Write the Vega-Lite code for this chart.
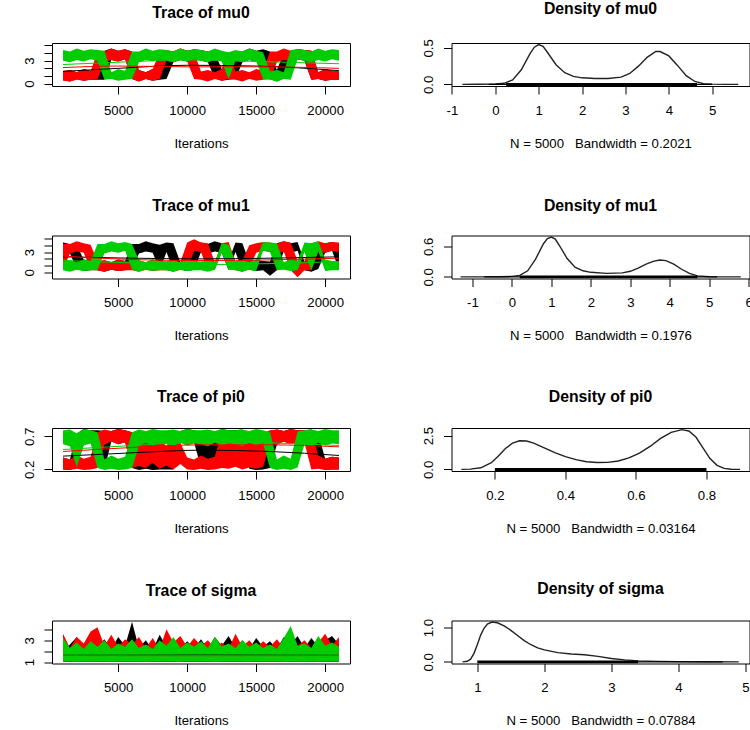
{
"$schema":"https://vega.github.io/schema/vega-lite/v6.json",
"padding":{"left":21,"top":0,"right":2,"bottom":2},
"background":"white",
"columns":2,
"spacing":{"row":149.5,"column":101.5},
"bounds":"flush",
"datasets":{
"mu0":[
{"c":1,"x":1000,"lo":0.5,"hi":1.6},{"c":1,"x":1500,"lo":0.3,"hi":1.8},{"c":1,"x":2000,"lo":0.6,"hi":1.5},{"c":1,"x":2500,"lo":0.4,"hi":1.9},{"c":1,"x":3000,"lo":0.5,"hi":1.7},{"c":1,"x":3500,"lo":0.5,"hi":1.6},{"c":1,"x":4000,"lo":0.5,"hi":4.3},{"c":1,"x":4500,"lo":3.1,"hi":4.6},{"c":1,"x":5000,"lo":2.9,"hi":4.3},{"c":1,"x":5500,"lo":3.2,"hi":4.5},{"c":1,"x":6000,"lo":0.6,"hi":4.2},{"c":1,"x":6500,"lo":0.3,"hi":1.8},{"c":1,"x":7000,"lo":0.6,"hi":1.5},{"c":1,"x":7500,"lo":0.4,"hi":1.9},{"c":1,"x":8000,"lo":0.5,"hi":1.7},{"c":1,"x":8500,"lo":0.6,"hi":4.2},{"c":1,"x":9000,"lo":2.8,"hi":4.2},{"c":1,"x":9500,"lo":3.1,"hi":4.6},{"c":1,"x":10000,"lo":2.9,"hi":4.3},{"c":1,"x":10500,"lo":3.2,"hi":4.5},{"c":1,"x":11000,"lo":3.0,"hi":4.4},{"c":1,"x":11500,"lo":2.8,"hi":4.2},{"c":1,"x":12000,"lo":0.7,"hi":4.0},{"c":1,"x":12500,"lo":0.4,"hi":1.9},{"c":1,"x":13000,"lo":0.5,"hi":1.7},{"c":1,"x":13500,"lo":0.6,"hi":4.2},{"c":1,"x":14000,"lo":2.8,"hi":4.2},{"c":1,"x":14500,"lo":3.1,"hi":4.6},{"c":1,"x":15000,"lo":2.9,"hi":4.3},{"c":1,"x":15500,"lo":3.2,"hi":4.5},{"c":1,"x":16000,"lo":0.6,"hi":4.2},{"c":1,"x":16500,"lo":0.3,"hi":1.8},{"c":1,"x":17000,"lo":0.7,"hi":4.0},{"c":1,"x":17500,"lo":2.9,"hi":4.3},{"c":1,"x":18000,"lo":3.2,"hi":4.5},{"c":1,"x":18500,"lo":3.0,"hi":4.4},{"c":1,"x":19000,"lo":0.5,"hi":4.3},{"c":1,"x":19500,"lo":0.6,"hi":1.5},{"c":1,"x":20000,"lo":0.4,"hi":1.9},{"c":1,"x":20500,"lo":0.5,"hi":1.7},{"c":1,"x":21000,"lo":0.5,"hi":1.6},
{"c":2,"x":1000,"lo":0.4,"hi":1.7},{"c":2,"x":1500,"lo":0.3,"hi":1.8},{"c":2,"x":2000,"lo":0.5,"hi":1.5},{"c":2,"x":2500,"lo":0.4,"hi":1.9},{"c":2,"x":3000,"lo":0.5,"hi":1.6},{"c":2,"x":3500,"lo":0.6,"hi":4.2},{"c":2,"x":4000,"lo":2.8,"hi":4.2},{"c":2,"x":4500,"lo":3.1,"hi":4.6},{"c":2,"x":5000,"lo":2.9,"hi":4.3},{"c":2,"x":5500,"lo":3.2,"hi":4.5},{"c":2,"x":6000,"lo":0.6,"hi":4.2},{"c":2,"x":6500,"lo":0.3,"hi":1.8},{"c":2,"x":7000,"lo":0.6,"hi":1.5},{"c":2,"x":7500,"lo":0.4,"hi":1.9},{"c":2,"x":8000,"lo":0.6,"hi":4.1},{"c":2,"x":8500,"lo":3.0,"hi":4.4},{"c":2,"x":9000,"lo":2.8,"hi":4.2},{"c":2,"x":9500,"lo":3.1,"hi":4.6},{"c":2,"x":10000,"lo":2.9,"hi":4.3},{"c":2,"x":10500,"lo":0.6,"hi":4.1},{"c":2,"x":11000,"lo":0.5,"hi":1.6},{"c":2,"x":11500,"lo":0.3,"hi":1.8},{"c":2,"x":12000,"lo":0.6,"hi":1.5},{"c":2,"x":12500,"lo":0.4,"hi":1.9},{"c":2,"x":13000,"lo":0.6,"hi":4.1},{"c":2,"x":13500,"lo":0.5,"hi":1.6},{"c":2,"x":14000,"lo":0.3,"hi":1.8},{"c":2,"x":14500,"lo":0.6,"hi":1.5},{"c":2,"x":15000,"lo":0.4,"hi":1.9},{"c":2,"x":15500,"lo":0.5,"hi":1.7},{"c":2,"x":16000,"lo":0.6,"hi":4.2},{"c":2,"x":16500,"lo":2.8,"hi":4.2},{"c":2,"x":17000,"lo":3.1,"hi":4.6},{"c":2,"x":17500,"lo":2.9,"hi":4.3},{"c":2,"x":18000,"lo":3.2,"hi":4.5},{"c":2,"x":18500,"lo":3.0,"hi":4.4},{"c":2,"x":19000,"lo":0.5,"hi":4.3},{"c":2,"x":19500,"lo":0.6,"hi":1.5},{"c":2,"x":20000,"lo":0.4,"hi":1.9},{"c":2,"x":20500,"lo":0.5,"hi":1.7},{"c":2,"x":21000,"lo":0.5,"hi":1.6},
{"c":3,"x":1000,"lo":3.0,"hi":4.4},{"c":3,"x":1500,"lo":2.8,"hi":4.2},{"c":3,"x":2000,"lo":3.1,"hi":4.6},{"c":3,"x":2500,"lo":2.9,"hi":4.3},{"c":3,"x":3000,"lo":3.2,"hi":4.5},{"c":3,"x":3500,"lo":3.0,"hi":4.4},{"c":3,"x":4000,"lo":0.5,"hi":4.3},{"c":3,"x":4500,"lo":0.6,"hi":1.5},{"c":3,"x":5000,"lo":0.4,"hi":1.9},{"c":3,"x":5500,"lo":0.5,"hi":1.7},{"c":3,"x":6000,"lo":0.6,"hi":4.2},{"c":3,"x":6500,"lo":2.8,"hi":4.2},{"c":3,"x":7000,"lo":3.1,"hi":4.6},{"c":3,"x":7500,"lo":2.9,"hi":4.3},{"c":3,"x":8000,"lo":3.2,"hi":4.5},{"c":3,"x":8500,"lo":3.0,"hi":4.4},{"c":3,"x":9000,"lo":2.8,"hi":4.2},{"c":3,"x":9500,"lo":3.1,"hi":4.6},{"c":3,"x":10000,"lo":2.9,"hi":4.3},{"c":3,"x":10500,"lo":3.2,"hi":4.5},{"c":3,"x":11000,"lo":3.0,"hi":4.4},{"c":3,"x":11500,"lo":2.8,"hi":4.2},{"c":3,"x":12000,"lo":3.1,"hi":4.6},{"c":3,"x":12500,"lo":2.9,"hi":4.3},{"c":3,"x":13000,"lo":0.6,"hi":4.1},{"c":3,"x":13500,"lo":3.0,"hi":4.4},{"c":3,"x":14000,"lo":2.8,"hi":4.2},{"c":3,"x":14500,"lo":3.1,"hi":4.6},{"c":3,"x":15000,"lo":2.9,"hi":4.3},{"c":3,"x":15500,"lo":0.6,"hi":4.1},{"c":3,"x":16000,"lo":0.5,"hi":1.6},{"c":3,"x":16500,"lo":0.3,"hi":1.8},{"c":3,"x":17000,"lo":0.6,"hi":1.5},{"c":3,"x":17500,"lo":0.5,"hi":4.4},{"c":3,"x":18000,"lo":3.2,"hi":4.5},{"c":3,"x":18500,"lo":3.0,"hi":4.4},{"c":3,"x":19000,"lo":2.8,"hi":4.2},{"c":3,"x":19500,"lo":3.1,"hi":4.6},{"c":3,"x":20000,"lo":2.9,"hi":4.3},{"c":3,"x":20500,"lo":3.2,"hi":4.5},{"c":3,"x":21000,"lo":3.0,"hi":4.4}
],
"mu1":[
{"c":1,"x":1000,"lo":3.0,"hi":4.4},{"c":1,"x":1500,"lo":2.8,"hi":4.2},{"c":1,"x":2000,"lo":0.5,"hi":4.0},{"c":1,"x":2500,"lo":0.2,"hi":1.9},{"c":1,"x":3000,"lo":0.3,"hi":1.7},{"c":1,"x":3500,"lo":0.3,"hi":1.6},{"c":1,"x":4000,"lo":0.1,"hi":1.8},{"c":1,"x":4500,"lo":0.4,"hi":1.5},{"c":1,"x":5000,"lo":0.2,"hi":1.9},{"c":1,"x":5500,"lo":0.3,"hi":1.7},{"c":1,"x":6000,"lo":0.4,"hi":4.2},{"c":1,"x":6500,"lo":2.8,"hi":4.2},{"c":1,"x":7000,"lo":3.1,"hi":4.6},{"c":1,"x":7500,"lo":2.9,"hi":4.3},{"c":1,"x":8000,"lo":0.4,"hi":4.1},{"c":1,"x":8500,"lo":3.0,"hi":4.4},{"c":1,"x":9000,"lo":0.3,"hi":4.3},{"c":1,"x":9500,"lo":0.4,"hi":1.5},{"c":1,"x":10000,"lo":0.2,"hi":1.9},{"c":1,"x":10500,"lo":0.4,"hi":4.1},{"c":1,"x":11000,"lo":3.0,"hi":4.4},{"c":1,"x":11500,"lo":2.8,"hi":4.2},{"c":1,"x":12000,"lo":3.1,"hi":4.6},{"c":1,"x":12500,"lo":2.9,"hi":4.3},{"c":1,"x":13000,"lo":0.3,"hi":1.7},{"c":1,"x":13500,"lo":3.0,"hi":4.4},{"c":1,"x":14000,"lo":0.3,"hi":4.3},{"c":1,"x":14500,"lo":0.4,"hi":1.5},{"c":1,"x":15000,"lo":0.2,"hi":1.9},{"c":1,"x":15500,"lo":0.3,"hi":1.7},{"c":1,"x":16000,"lo":-0.5,"hi":1.6},{"c":1,"x":16500,"lo":0.3,"hi":4.3},{"c":1,"x":17000,"lo":3.1,"hi":4.6},{"c":1,"x":17500,"lo":2.9,"hi":4.3},{"c":1,"x":18000,"lo":3.2,"hi":4.5},{"c":1,"x":18500,"lo":0.3,"hi":1.6},{"c":1,"x":19000,"lo":0.1,"hi":1.8},{"c":1,"x":19500,"lo":0.5,"hi":4.0},{"c":1,"x":20000,"lo":2.9,"hi":4.3},{"c":1,"x":20500,"lo":3.2,"hi":4.5},{"c":1,"x":21000,"lo":0.4,"hi":4.2},
{"c":2,"x":1000,"lo":0.4,"hi":4.2},{"c":2,"x":1500,"lo":2.8,"hi":4.2},{"c":2,"x":2000,"lo":3.1,"hi":4.6},{"c":2,"x":2500,"lo":2.9,"hi":4.3},{"c":2,"x":3000,"lo":0.4,"hi":4.1},{"c":2,"x":3500,"lo":0.3,"hi":1.6},{"c":2,"x":4000,"lo":0.1,"hi":1.8},{"c":2,"x":4500,"lo":0.4,"hi":1.5},{"c":2,"x":5000,"lo":0.2,"hi":1.9},{"c":2,"x":5500,"lo":0.3,"hi":1.7},{"c":2,"x":6000,"lo":0.3,"hi":1.6},{"c":2,"x":6500,"lo":0.1,"hi":1.8},{"c":2,"x":7000,"lo":0.4,"hi":1.5},{"c":2,"x":7500,"lo":0.2,"hi":1.9},{"c":2,"x":8000,"lo":0.3,"hi":1.7},{"c":2,"x":8500,"lo":0.3,"hi":1.6},{"c":2,"x":9000,"lo":0.1,"hi":1.8},{"c":2,"x":9500,"lo":0.4,"hi":1.5},{"c":2,"x":10000,"lo":0.3,"hi":4.4},{"c":2,"x":10500,"lo":3.2,"hi":4.9},{"c":2,"x":11000,"lo":3.0,"hi":4.4},{"c":2,"x":11500,"lo":0.3,"hi":4.3},{"c":2,"x":12000,"lo":0.4,"hi":1.5},{"c":2,"x":12500,"lo":2.9,"hi":4.3},{"c":2,"x":13000,"lo":3.2,"hi":4.5},{"c":2,"x":13500,"lo":0.3,"hi":1.6},{"c":2,"x":14000,"lo":0.1,"hi":1.8},{"c":2,"x":14500,"lo":0.5,"hi":4.0},{"c":2,"x":15000,"lo":2.9,"hi":4.3},{"c":2,"x":15500,"lo":3.2,"hi":4.5},{"c":2,"x":16000,"lo":3.0,"hi":4.4},{"c":2,"x":16500,"lo":2.8,"hi":4.2},{"c":2,"x":17000,"lo":3.1,"hi":4.6},{"c":2,"x":17500,"lo":0.3,"hi":4.4},{"c":2,"x":18000,"lo":-0.7,"hi":1.7},{"c":2,"x":18500,"lo":0.3,"hi":1.6},{"c":2,"x":19000,"lo":0.3,"hi":4.3},{"c":2,"x":19500,"lo":3.1,"hi":4.6},{"c":2,"x":20000,"lo":2.9,"hi":4.3},{"c":2,"x":20500,"lo":3.2,"hi":4.5},{"c":2,"x":21000,"lo":3.0,"hi":4.4},
{"c":3,"x":1000,"lo":0.3,"hi":1.6},{"c":3,"x":1500,"lo":0.1,"hi":1.8},{"c":3,"x":2000,"lo":0.4,"hi":1.5},{"c":3,"x":2500,"lo":0.2,"hi":1.9},{"c":3,"x":3000,"lo":0.3,"hi":1.7},{"c":3,"x":3500,"lo":0.4,"hi":4.2},{"c":3,"x":4000,"lo":2.8,"hi":4.2},{"c":3,"x":4500,"lo":3.1,"hi":4.6},{"c":3,"x":5000,"lo":2.9,"hi":4.3},{"c":3,"x":5500,"lo":3.2,"hi":4.5},{"c":3,"x":6000,"lo":0.4,"hi":4.2},{"c":3,"x":6500,"lo":0.1,"hi":1.8},{"c":3,"x":7000,"lo":0.4,"hi":1.5},{"c":3,"x":7500,"lo":0.2,"hi":1.9},{"c":3,"x":8000,"lo":0.3,"hi":1.7},{"c":3,"x":8500,"lo":0.3,"hi":1.6},{"c":3,"x":9000,"lo":0.1,"hi":1.8},{"c":3,"x":9500,"lo":0.4,"hi":1.5},{"c":3,"x":10000,"lo":0.2,"hi":1.9},{"c":3,"x":10500,"lo":0.3,"hi":1.7},{"c":3,"x":11000,"lo":0.3,"hi":1.6},{"c":3,"x":11500,"lo":0.1,"hi":1.8},{"c":3,"x":12000,"lo":0.4,"hi":1.5},{"c":3,"x":12500,"lo":2.9,"hi":4.3},{"c":3,"x":13000,"lo":0.4,"hi":4.1},{"c":3,"x":13500,"lo":0.3,"hi":1.6},{"c":3,"x":14000,"lo":0.1,"hi":1.8},{"c":3,"x":14500,"lo":0.4,"hi":1.5},{"c":3,"x":15000,"lo":0.2,"hi":1.9},{"c":3,"x":15500,"lo":3.2,"hi":4.5},{"c":3,"x":16000,"lo":3.0,"hi":4.4},{"c":3,"x":16500,"lo":0.3,"hi":4.3},{"c":3,"x":17000,"lo":0.4,"hi":1.5},{"c":3,"x":17500,"lo":0.2,"hi":1.9},{"c":3,"x":18000,"lo":0.3,"hi":1.7},{"c":3,"x":18500,"lo":3.0,"hi":4.4},{"c":3,"x":19000,"lo":0.3,"hi":4.3},{"c":3,"x":19500,"lo":3.1,"hi":4.6},{"c":3,"x":20000,"lo":0.2,"hi":1.9},{"c":3,"x":20500,"lo":0.3,"hi":1.7},{"c":3,"x":21000,"lo":0.3,"hi":1.6}
],
"pi0":[
{"c":1,"x":1000,"lo":0.20,"hi":0.38},{"c":1,"x":1500,"lo":0.19,"hi":0.35},{"c":1,"x":2000,"lo":0.24,"hi":0.74},{"c":1,"x":2500,"lo":0.58,"hi":0.81},{"c":1,"x":3000,"lo":0.61,"hi":0.79},{"c":1,"x":3500,"lo":0.60,"hi":0.79},{"c":1,"x":4000,"lo":0.20,"hi":0.78},{"c":1,"x":4500,"lo":0.62,"hi":0.78},{"c":1,"x":5000,"lo":0.58,"hi":0.81},{"c":1,"x":5500,"lo":0.61,"hi":0.79},{"c":1,"x":6000,"lo":0.22,"hi":0.76},{"c":1,"x":6500,"lo":0.19,"hi":0.35},{"c":1,"x":7000,"lo":0.21,"hi":0.41},{"c":1,"x":7500,"lo":0.19,"hi":0.36},{"c":1,"x":8000,"lo":0.20,"hi":0.39},{"c":1,"x":8500,"lo":0.20,"hi":0.38},{"c":1,"x":9000,"lo":0.20,"hi":0.78},{"c":1,"x":9500,"lo":0.62,"hi":0.78},{"c":1,"x":10000,"lo":0.58,"hi":0.81},{"c":1,"x":10500,"lo":0.61,"hi":0.79},{"c":1,"x":11000,"lo":0.22,"hi":0.76},{"c":1,"x":11500,"lo":0.20,"hi":0.78},{"c":1,"x":12000,"lo":0.24,"hi":0.74},{"c":1,"x":12500,"lo":0.58,"hi":0.81},{"c":1,"x":13000,"lo":0.61,"hi":0.79},{"c":1,"x":13500,"lo":0.60,"hi":0.79},{"c":1,"x":14000,"lo":0.57,"hi":0.80},{"c":1,"x":14500,"lo":0.21,"hi":0.41},{"c":1,"x":15000,"lo":0.19,"hi":0.36},{"c":1,"x":15500,"lo":0.20,"hi":0.39},{"c":1,"x":16000,"lo":0.22,"hi":0.76},{"c":1,"x":16500,"lo":0.57,"hi":0.80},{"c":1,"x":17000,"lo":0.62,"hi":0.78},{"c":1,"x":17500,"lo":0.58,"hi":0.81},{"c":1,"x":18000,"lo":0.61,"hi":0.79},{"c":1,"x":18500,"lo":0.60,"hi":0.79},{"c":1,"x":19000,"lo":0.57,"hi":0.80},{"c":1,"x":19500,"lo":0.24,"hi":0.74},{"c":1,"x":20000,"lo":0.19,"hi":0.36},{"c":1,"x":20500,"lo":0.20,"hi":0.39},{"c":1,"x":21000,"lo":0.20,"hi":0.38},
{"c":2,"x":1000,"lo":0.20,"hi":0.38},{"c":2,"x":1500,"lo":0.19,"hi":0.35},{"c":2,"x":2000,"lo":0.21,"hi":0.41},{"c":2,"x":2500,"lo":0.19,"hi":0.36},{"c":2,"x":3000,"lo":0.20,"hi":0.39},{"c":2,"x":3500,"lo":0.22,"hi":0.76},{"c":2,"x":4000,"lo":0.57,"hi":0.80},{"c":2,"x":4500,"lo":0.62,"hi":0.78},{"c":2,"x":5000,"lo":0.58,"hi":0.81},{"c":2,"x":5500,"lo":0.61,"hi":0.79},{"c":2,"x":6000,"lo":0.22,"hi":0.76},{"c":2,"x":6500,"lo":0.25,"hi":0.62},{"c":2,"x":7000,"lo":0.22,"hi":0.70},{"c":2,"x":7500,"lo":0.30,"hi":0.58},{"c":2,"x":8000,"lo":0.21,"hi":0.66},{"c":2,"x":8500,"lo":0.26,"hi":0.55},{"c":2,"x":9000,"lo":0.20,"hi":0.72},{"c":2,"x":9500,"lo":0.28,"hi":0.60},{"c":2,"x":10000,"lo":0.20,"hi":0.38},{"c":2,"x":10500,"lo":0.19,"hi":0.35},{"c":2,"x":11000,"lo":0.21,"hi":0.41},{"c":2,"x":11500,"lo":0.19,"hi":0.36},{"c":2,"x":12000,"lo":0.20,"hi":0.39},{"c":2,"x":12500,"lo":0.22,"hi":0.76},{"c":2,"x":13000,"lo":0.21,"hi":0.68},{"c":2,"x":13500,"lo":0.24,"hi":0.74},{"c":2,"x":14000,"lo":0.20,"hi":0.62},{"c":2,"x":14500,"lo":0.23,"hi":0.77},{"c":2,"x":15000,"lo":0.21,"hi":0.70},{"c":2,"x":15500,"lo":0.24,"hi":0.74},{"c":2,"x":16000,"lo":0.60,"hi":0.79},{"c":2,"x":16500,"lo":0.57,"hi":0.80},{"c":2,"x":17000,"lo":0.62,"hi":0.78},{"c":2,"x":17500,"lo":0.58,"hi":0.81},{"c":2,"x":18000,"lo":0.61,"hi":0.79},{"c":2,"x":18500,"lo":0.60,"hi":0.79},{"c":2,"x":19000,"lo":0.20,"hi":0.78},{"c":2,"x":19500,"lo":0.21,"hi":0.41},{"c":2,"x":20000,"lo":0.19,"hi":0.36},{"c":2,"x":20500,"lo":0.20,"hi":0.39},{"c":2,"x":21000,"lo":0.20,"hi":0.38},
{"c":3,"x":1000,"lo":0.58,"hi":0.79},{"c":3,"x":1500,"lo":0.55,"hi":0.80},{"c":3,"x":2000,"lo":0.24,"hi":0.74},{"c":3,"x":2500,"lo":0.56,"hi":0.81},{"c":3,"x":3000,"lo":0.59,"hi":0.79},{"c":3,"x":3500,"lo":0.22,"hi":0.76},{"c":3,"x":4000,"lo":0.19,"hi":0.35},{"c":3,"x":4500,"lo":0.21,"hi":0.41},{"c":3,"x":5000,"lo":0.19,"hi":0.36},{"c":3,"x":5500,"lo":0.20,"hi":0.39},{"c":3,"x":6000,"lo":0.22,"hi":0.76},{"c":3,"x":6500,"lo":0.55,"hi":0.80},{"c":3,"x":7000,"lo":0.60,"hi":0.78},{"c":3,"x":7500,"lo":0.56,"hi":0.81},{"c":3,"x":8000,"lo":0.59,"hi":0.79},{"c":3,"x":8500,"lo":0.58,"hi":0.79},{"c":3,"x":9000,"lo":0.55,"hi":0.80},{"c":3,"x":9500,"lo":0.60,"hi":0.78},{"c":3,"x":10000,"lo":0.56,"hi":0.81},{"c":3,"x":10500,"lo":0.59,"hi":0.79},{"c":3,"x":11000,"lo":0.58,"hi":0.79},{"c":3,"x":11500,"lo":0.55,"hi":0.80},{"c":3,"x":12000,"lo":0.60,"hi":0.78},{"c":3,"x":12500,"lo":0.56,"hi":0.81},{"c":3,"x":13000,"lo":0.59,"hi":0.79},{"c":3,"x":13500,"lo":0.58,"hi":0.79},{"c":3,"x":14000,"lo":0.55,"hi":0.80},{"c":3,"x":14500,"lo":0.60,"hi":0.78},{"c":3,"x":15000,"lo":0.56,"hi":0.81},{"c":3,"x":15500,"lo":0.59,"hi":0.79},{"c":3,"x":16000,"lo":0.22,"hi":0.76},{"c":3,"x":16500,"lo":0.19,"hi":0.35},{"c":3,"x":17000,"lo":0.21,"hi":0.41},{"c":3,"x":17500,"lo":0.19,"hi":0.36},{"c":3,"x":18000,"lo":0.23,"hi":0.77},{"c":3,"x":18500,"lo":0.58,"hi":0.79},{"c":3,"x":19000,"lo":0.55,"hi":0.80},{"c":3,"x":19500,"lo":0.60,"hi":0.78},{"c":3,"x":20000,"lo":0.56,"hi":0.81},{"c":3,"x":20500,"lo":0.59,"hi":0.79},{"c":3,"x":21000,"lo":0.58,"hi":0.79}
],
"sigma":[
{"c":1,"x":1000,"lo":1.05,"hi":1.9},{"c":1,"x":1500,"lo":1.02,"hi":2.6},{"c":1,"x":2000,"lo":1.08,"hi":3.3},{"c":1,"x":2500,"lo":1.04,"hi":2.1},{"c":1,"x":3000,"lo":1.06,"hi":3.4},{"c":1,"x":3500,"lo":1.05,"hi":2.4},{"c":1,"x":4000,"lo":1.02,"hi":3.1},{"c":1,"x":4500,"lo":1.08,"hi":2.2},{"c":1,"x":5000,"lo":1.04,"hi":3.3},{"c":1,"x":5500,"lo":1.06,"hi":2.5},{"c":1,"x":6000,"lo":1.05,"hi":4.7},{"c":1,"x":6500,"lo":1.02,"hi":2.3},{"c":1,"x":7000,"lo":1.08,"hi":3.0},{"c":1,"x":7500,"lo":1.04,"hi":2.1},{"c":1,"x":8000,"lo":1.06,"hi":3.5},{"c":1,"x":8500,"lo":1.05,"hi":2.4},{"c":1,"x":9000,"lo":1.02,"hi":3.2},{"c":1,"x":9500,"lo":1.08,"hi":2.2},{"c":1,"x":10000,"lo":1.04,"hi":2.9},{"c":1,"x":10500,"lo":1.06,"hi":2.3},{"c":1,"x":11000,"lo":1.05,"hi":3.1},{"c":1,"x":11500,"lo":1.02,"hi":2.2},{"c":1,"x":12000,"lo":1.08,"hi":3.3},{"c":1,"x":12500,"lo":1.04,"hi":2.5},{"c":1,"x":13000,"lo":1.06,"hi":3.4},{"c":1,"x":13500,"lo":1.05,"hi":2.3},{"c":1,"x":14000,"lo":1.02,"hi":3.0},{"c":1,"x":14500,"lo":1.08,"hi":2.2},{"c":1,"x":15000,"lo":1.04,"hi":3.2},{"c":1,"x":15500,"lo":1.06,"hi":2.4},{"c":1,"x":16000,"lo":1.05,"hi":2.9},{"c":1,"x":16500,"lo":1.02,"hi":2.2},{"c":1,"x":17000,"lo":1.08,"hi":3.3},{"c":1,"x":17500,"lo":1.04,"hi":2.6},{"c":1,"x":18000,"lo":1.06,"hi":3.4},{"c":1,"x":18500,"lo":1.05,"hi":2.3},{"c":1,"x":19000,"lo":1.02,"hi":3.2},{"c":1,"x":19500,"lo":1.08,"hi":2.4},{"c":1,"x":20000,"lo":1.04,"hi":3.0},{"c":1,"x":20500,"lo":1.06,"hi":3.4},{"c":1,"x":21000,"lo":1.05,"hi":2.6},
{"c":2,"x":1000,"lo":1.03,"hi":3.6},{"c":2,"x":1500,"lo":1.06,"hi":2.3},{"c":2,"x":2000,"lo":1.02,"hi":3.3},{"c":2,"x":2500,"lo":1.05,"hi":2.7},{"c":2,"x":3000,"lo":1.04,"hi":3.8},{"c":2,"x":3500,"lo":1.03,"hi":4.2},{"c":2,"x":4000,"lo":1.06,"hi":2.5},{"c":2,"x":4500,"lo":1.02,"hi":3.5},{"c":2,"x":5000,"lo":1.05,"hi":2.4},{"c":2,"x":5500,"lo":1.04,"hi":3.1},{"c":2,"x":6000,"lo":1.03,"hi":2.6},{"c":2,"x":6500,"lo":1.06,"hi":3.3},{"c":2,"x":7000,"lo":1.02,"hi":2.3},{"c":2,"x":7500,"lo":1.05,"hi":3.2},{"c":2,"x":8000,"lo":1.04,"hi":2.2},{"c":2,"x":8500,"lo":1.03,"hi":4.0},{"c":2,"x":9000,"lo":1.06,"hi":2.8},{"c":2,"x":9500,"lo":1.02,"hi":3.4},{"c":2,"x":10000,"lo":1.05,"hi":2.4},{"c":2,"x":10500,"lo":1.04,"hi":3.2},{"c":2,"x":11000,"lo":1.03,"hi":2.5},{"c":2,"x":11500,"lo":1.06,"hi":3.0},{"c":2,"x":12000,"lo":1.02,"hi":2.3},{"c":2,"x":12500,"lo":1.05,"hi":2.8},{"c":2,"x":13000,"lo":1.04,"hi":2.2},{"c":2,"x":13500,"lo":1.03,"hi":3.6},{"c":2,"x":14000,"lo":1.06,"hi":2.4},{"c":2,"x":14500,"lo":1.02,"hi":3.0},{"c":2,"x":15000,"lo":1.05,"hi":2.3},{"c":2,"x":15500,"lo":1.04,"hi":2.9},{"c":2,"x":16000,"lo":1.03,"hi":2.4},{"c":2,"x":16500,"lo":1.06,"hi":3.1},{"c":2,"x":17000,"lo":1.02,"hi":2.3},{"c":2,"x":17500,"lo":1.05,"hi":3.5},{"c":2,"x":18000,"lo":1.04,"hi":2.5},{"c":2,"x":18500,"lo":1.03,"hi":3.0},{"c":2,"x":19000,"lo":1.06,"hi":2.3},{"c":2,"x":19500,"lo":1.02,"hi":2.8},{"c":2,"x":20000,"lo":1.05,"hi":3.6},{"c":2,"x":20500,"lo":1.04,"hi":2.5},{"c":2,"x":21000,"lo":1.03,"hi":3.3},
{"c":3,"x":1000,"lo":1.08,"hi":3.2},{"c":3,"x":1500,"lo":1.05,"hi":2.3},{"c":3,"x":2000,"lo":1.1,"hi":2.8},{"c":3,"x":2500,"lo":1.06,"hi":2.2},{"c":3,"x":3000,"lo":1.07,"hi":2.9},{"c":3,"x":3500,"lo":1.08,"hi":2.4},{"c":3,"x":4000,"lo":1.05,"hi":3.0},{"c":3,"x":4500,"lo":1.1,"hi":2.2},{"c":3,"x":5000,"lo":1.06,"hi":2.7},{"c":3,"x":5500,"lo":1.07,"hi":2.4},{"c":3,"x":6000,"lo":1.08,"hi":3.1},{"c":3,"x":6500,"lo":1.05,"hi":2.3},{"c":3,"x":7000,"lo":1.1,"hi":2.6},{"c":3,"x":7500,"lo":1.06,"hi":2.2},{"c":3,"x":8000,"lo":1.07,"hi":3.0},{"c":3,"x":8500,"lo":1.08,"hi":2.5},{"c":3,"x":9000,"lo":1.05,"hi":3.3},{"c":3,"x":9500,"lo":1.1,"hi":2.3},{"c":3,"x":10000,"lo":1.06,"hi":2.8},{"c":3,"x":10500,"lo":1.07,"hi":2.4},{"c":3,"x":11000,"lo":1.08,"hi":2.9},{"c":3,"x":11500,"lo":1.05,"hi":2.3},{"c":3,"x":12000,"lo":1.1,"hi":3.3},{"c":3,"x":12500,"lo":1.06,"hi":2.4},{"c":3,"x":13000,"lo":1.07,"hi":2.7},{"c":3,"x":13500,"lo":1.08,"hi":2.3},{"c":3,"x":14000,"lo":1.05,"hi":3.0},{"c":3,"x":14500,"lo":1.1,"hi":2.4},{"c":3,"x":15000,"lo":1.06,"hi":2.8},{"c":3,"x":15500,"lo":1.07,"hi":2.3},{"c":3,"x":16000,"lo":1.08,"hi":2.6},{"c":3,"x":16500,"lo":1.05,"hi":2.2},{"c":3,"x":17000,"lo":1.1,"hi":3.2},{"c":3,"x":17500,"lo":1.06,"hi":4.3},{"c":3,"x":18000,"lo":1.07,"hi":2.5},{"c":3,"x":18500,"lo":1.08,"hi":2.7},{"c":3,"x":19000,"lo":1.05,"hi":2.3},{"c":3,"x":19500,"lo":1.1,"hi":3.4},{"c":3,"x":20000,"lo":1.06,"hi":2.5},{"c":3,"x":20500,"lo":1.07,"hi":2.8},{"c":3,"x":21000,"lo":1.08,"hi":2.4}
],
"smooth":[
{"p":"mu0","c":1,"x":1000,"y":1.6},{"p":"mu0","c":1,"x":5000,"y":2.0},{"p":"mu0","c":1,"x":10000,"y":2.4},{"p":"mu0","c":1,"x":15000,"y":2.3},{"p":"mu0","c":1,"x":21000,"y":1.7},
{"p":"mu0","c":2,"x":1000,"y":2.1},{"p":"mu0","c":2,"x":5000,"y":2.3},{"p":"mu0","c":2,"x":10000,"y":2.2},{"p":"mu0","c":2,"x":15000,"y":2.2},{"p":"mu0","c":2,"x":21000,"y":2.0},
{"p":"mu0","c":3,"x":1000,"y":2.5},{"p":"mu0","c":3,"x":5000,"y":2.8},{"p":"mu0","c":3,"x":10000,"y":3.1},{"p":"mu0","c":3,"x":15000,"y":2.9},{"p":"mu0","c":3,"x":21000,"y":2.6},
{"p":"mu1","c":1,"x":1000,"y":2.3},{"p":"mu1","c":1,"x":6000,"y":2.1},{"p":"mu1","c":1,"x":11000,"y":2.0},{"p":"mu1","c":1,"x":16000,"y":2.1},{"p":"mu1","c":1,"x":21000,"y":2.3},
{"p":"mu1","c":2,"x":1000,"y":2.4},{"p":"mu1","c":2,"x":6000,"y":1.9},{"p":"mu1","c":2,"x":11000,"y":1.75},{"p":"mu1","c":2,"x":16000,"y":1.85},{"p":"mu1","c":2,"x":21000,"y":2.1},
{"p":"mu1","c":3,"x":1000,"y":1.75},{"p":"mu1","c":3,"x":6000,"y":1.4},{"p":"mu1","c":3,"x":11000,"y":1.15},{"p":"mu1","c":3,"x":16000,"y":1.3},{"p":"mu1","c":3,"x":21000,"y":1.6},
{"p":"pi0","c":1,"x":1000,"y":0.40},{"p":"pi0","c":1,"x":6000,"y":0.45},{"p":"pi0","c":1,"x":11000,"y":0.49},{"p":"pi0","c":1,"x":16000,"y":0.47},{"p":"pi0","c":1,"x":21000,"y":0.41},
{"p":"pi0","c":2,"x":1000,"y":0.47},{"p":"pi0","c":2,"x":6000,"y":0.53},{"p":"pi0","c":2,"x":11000,"y":0.57},{"p":"pi0","c":2,"x":16000,"y":0.57},{"p":"pi0","c":2,"x":21000,"y":0.54},
{"p":"pi0","c":3,"x":1000,"y":0.50},{"p":"pi0","c":3,"x":6000,"y":0.56},{"p":"pi0","c":3,"x":11000,"y":0.61},{"p":"pi0","c":3,"x":16000,"y":0.60},{"p":"pi0","c":3,"x":21000,"y":0.56},
{"p":"sigma","c":1,"x":1000,"y":1.62},{"p":"sigma","c":1,"x":11000,"y":1.64},{"p":"sigma","c":1,"x":21000,"y":1.62},
{"p":"sigma","c":2,"x":1000,"y":1.6},{"p":"sigma","c":2,"x":11000,"y":1.58},{"p":"sigma","c":2,"x":21000,"y":1.6},
{"p":"sigma","c":3,"x":1000,"y":1.55},{"p":"sigma","c":3,"x":11000,"y":1.56},{"p":"sigma","c":3,"x":21000,"y":1.55}
],
"dens":[
{"p":"mu0","x":-0.76,"y":0},{"p":"mu0","x":-0.4,"y":0.001},{"p":"mu0","x":0.0,"y":0.005},{"p":"mu0","x":0.2,"y":0.015},{"p":"mu0","x":0.4,"y":0.06},{"p":"mu0","x":0.6,"y":0.2},{"p":"mu0","x":0.8,"y":0.42},{"p":"mu0","x":0.9,"y":0.51},{"p":"mu0","x":1.0,"y":0.545},{"p":"mu0","x":1.1,"y":0.52},{"p":"mu0","x":1.2,"y":0.44},{"p":"mu0","x":1.4,"y":0.27},{"p":"mu0","x":1.6,"y":0.16},{"p":"mu0","x":1.8,"y":0.11},{"p":"mu0","x":2.0,"y":0.09},{"p":"mu0","x":2.3,"y":0.08},{"p":"mu0","x":2.6,"y":0.08},{"p":"mu0","x":2.9,"y":0.1},{"p":"mu0","x":3.1,"y":0.15},{"p":"mu0","x":3.3,"y":0.25},{"p":"mu0","x":3.5,"y":0.37},{"p":"mu0","x":3.7,"y":0.45},{"p":"mu0","x":3.8,"y":0.45},{"p":"mu0","x":4.0,"y":0.39},{"p":"mu0","x":4.2,"y":0.26},{"p":"mu0","x":4.4,"y":0.12},{"p":"mu0","x":4.6,"y":0.04},{"p":"mu0","x":4.8,"y":0.01},{"p":"mu0","x":5.0,"y":0.003},{"p":"mu0","x":5.3,"y":0.0005},{"p":"mu0","x":5.6,"y":0},
{"p":"mu1","x":-1.3,"y":0},{"p":"mu1","x":-0.8,"y":0.001},{"p":"mu1","x":-0.3,"y":0.004},{"p":"mu1","x":0.0,"y":0.01},{"p":"mu1","x":0.2,"y":0.03},{"p":"mu1","x":0.4,"y":0.12},{"p":"mu1","x":0.6,"y":0.35},{"p":"mu1","x":0.8,"y":0.65},{"p":"mu1","x":0.9,"y":0.75},{"p":"mu1","x":1.0,"y":0.78},{"p":"mu1","x":1.1,"y":0.74},{"p":"mu1","x":1.2,"y":0.62},{"p":"mu1","x":1.4,"y":0.36},{"p":"mu1","x":1.6,"y":0.19},{"p":"mu1","x":1.8,"y":0.12},{"p":"mu1","x":2.0,"y":0.09},{"p":"mu1","x":2.4,"y":0.07},{"p":"mu1","x":2.8,"y":0.08},{"p":"mu1","x":3.0,"y":0.11},{"p":"mu1","x":3.2,"y":0.17},{"p":"mu1","x":3.4,"y":0.25},{"p":"mu1","x":3.6,"y":0.31},{"p":"mu1","x":3.75,"y":0.33},{"p":"mu1","x":3.9,"y":0.32},{"p":"mu1","x":4.1,"y":0.25},{"p":"mu1","x":4.3,"y":0.15},{"p":"mu1","x":4.5,"y":0.07},{"p":"mu1","x":4.7,"y":0.02},{"p":"mu1","x":5.0,"y":0.004},{"p":"mu1","x":5.4,"y":0.001},{"p":"mu1","x":5.8,"y":0},
{"p":"pi0","x":0.105,"y":0},{"p":"pi0","x":0.13,"y":0.02},{"p":"pi0","x":0.16,"y":0.12},{"p":"pi0","x":0.19,"y":0.5},{"p":"pi0","x":0.21,"y":1.0},{"p":"pi0","x":0.23,"y":1.55},{"p":"pi0","x":0.25,"y":1.95},{"p":"pi0","x":0.27,"y":2.12},{"p":"pi0","x":0.29,"y":2.1},{"p":"pi0","x":0.31,"y":1.95},{"p":"pi0","x":0.34,"y":1.6},{"p":"pi0","x":0.37,"y":1.25},{"p":"pi0","x":0.40,"y":0.95},{"p":"pi0","x":0.43,"y":0.72},{"p":"pi0","x":0.46,"y":0.57},{"p":"pi0","x":0.49,"y":0.51},{"p":"pi0","x":0.52,"y":0.52},{"p":"pi0","x":0.55,"y":0.62},{"p":"pi0","x":0.58,"y":0.85},{"p":"pi0","x":0.61,"y":1.2},{"p":"pi0","x":0.64,"y":1.7},{"p":"pi0","x":0.67,"y":2.3},{"p":"pi0","x":0.70,"y":2.75},{"p":"pi0","x":0.73,"y":2.95},{"p":"pi0","x":0.75,"y":2.85},{"p":"pi0","x":0.77,"y":2.4},{"p":"pi0","x":0.79,"y":1.6},{"p":"pi0","x":0.81,"y":0.8},{"p":"pi0","x":0.83,"y":0.3},{"p":"pi0","x":0.85,"y":0.08},{"p":"pi0","x":0.87,"y":0.015},{"p":"pi0","x":0.895,"y":0},
{"p":"sigma","x":0.78,"y":0},{"p":"sigma","x":0.85,"y":0.02},{"p":"sigma","x":0.9,"y":0.08},{"p":"sigma","x":0.95,"y":0.25},{"p":"sigma","x":1.0,"y":0.5},{"p":"sigma","x":1.05,"y":0.78},{"p":"sigma","x":1.1,"y":0.98},{"p":"sigma","x":1.15,"y":1.1},{"p":"sigma","x":1.22,"y":1.16},{"p":"sigma","x":1.3,"y":1.14},{"p":"sigma","x":1.4,"y":1.05},{"p":"sigma","x":1.5,"y":0.92},{"p":"sigma","x":1.6,"y":0.77},{"p":"sigma","x":1.7,"y":0.62},{"p":"sigma","x":1.8,"y":0.5},{"p":"sigma","x":1.9,"y":0.41},{"p":"sigma","x":2.0,"y":0.35},{"p":"sigma","x":2.2,"y":0.27},{"p":"sigma","x":2.4,"y":0.23},{"p":"sigma","x":2.6,"y":0.21},{"p":"sigma","x":2.8,"y":0.16},{"p":"sigma","x":3.0,"y":0.1},{"p":"sigma","x":3.2,"y":0.06},{"p":"sigma","x":3.4,"y":0.03},{"p":"sigma","x":3.7,"y":0.015},{"p":"sigma","x":4.0,"y":0.008},{"p":"sigma","x":4.4,"y":0.003},{"p":"sigma","x":4.9,"y":0}
],
"rug":[
{"p":"mu0","kind":"sparse","x":-0.15,"x2":5.0},{"p":"mu0","kind":"dense","x":0.25,"x2":4.65},
{"p":"mu1","kind":"sparse","x":-0.7,"x2":5.2},{"p":"mu1","kind":"dense","x":0.2,"x2":4.7},
{"p":"pi0","kind":"dense","x":0.2,"x2":0.8},
{"p":"sigma","kind":"sparse","x":3.4,"x2":4.66},{"p":"sigma","kind":"dense","x":1.0,"x2":3.4}
]
},
"concat":[
{"width":298,"height":43,"title":"Trace of mu0","data":{"name":"mu0"},
"resolve":{"axis":{"y":"independent"}},
"encoding":{"x":{"field":"x","type":"quantitative","scale":{"domain":[201,21800],"nice":false,"zero":false},"axis":{"values":[5000,10000,15000,20000],"format":"d","title":"Iterations"}}},
"layer":[
{"transform":[{"filter":"datum.c==1"}],"mark":{"type":"area","color":"#000000","clip":true},"encoding":{"y":{"field":"lo","type":"quantitative","title":null,"scale":{"domain":[-0.3,5.3],"nice":false,"zero":false},"axis":{"values":[0,1,2,3,4,5],"labels":false,"orient":"left"}},"y2":{"field":"hi"}}},
{"transform":[{"filter":"datum.c==2"}],"mark":{"type":"area","color":"#ff0000","clip":true},"encoding":{"y":{"field":"lo","type":"quantitative","title":null,"axis":null},"y2":{"field":"hi"}}},
{"transform":[{"filter":"datum.c==3"}],"mark":{"type":"area","color":"#00cd00","clip":true},"encoding":{"y":{"field":"lo","type":"quantitative","title":null,"axis":null},"y2":{"field":"hi"}}},
{"data":{"name":"smooth"},"transform":[{"filter":"datum.p=='mu0'"}],"mark":{"type":"line","strokeWidth":1,"interpolate":"monotone","clip":true},"encoding":{"y":{"field":"y","type":"quantitative","title":null,"axis":{"values":[0,3],"ticks":false,"tickSize":0,"labelPadding":19,"orient":"left"}},"color":{"field":"c","type":"nominal","scale":{"domain":[1,2,3],"range":["#000000","#ff0000","#00cd00"]},"legend":null}}}
]},
{"width":298,"height":43,"title":"Density of mu0",
"encoding":{"x":{"field":"x","type":"quantitative","scale":{"domain":[-1.01,5.86],"nice":false,"zero":false},"axis":{"values":[-1,0,1,2,3,4,5],"labelExpr":"toString(datum.value)","title":"N = 5000\u00a0\u00a0 Bandwidth = 0.2021"}}},
"layer":[
{"data":{"name":"dens"},"transform":[{"filter":"datum.p=='mu0'"}],"mark":{"type":"line","color":"#222222","strokeWidth":1.4,"clip":true},"encoding":{"y":{"field":"y","type":"quantitative","title":null,"scale":{"domain":[-0.022,0.567],"nice":false,"zero":false},"axis":{"values":[0,0.1,0.2,0.3,0.4,0.5],"format":".1f","labelExpr":"datum.label=='0.0'||datum.label=='0.5'?datum.label:''"}}}},
{"data":{"name":"rug"},"transform":[{"filter":"datum.p=='mu0'"}],"mark":{"type":"rule","color":"#000000","clip":true},"encoding":{"x2":{"field":"x2"},"y":{"datum":0},"strokeWidth":{"field":"kind","type":"nominal","scale":{"domain":["dense","sparse"],"range":[3,1.2]},"legend":null}}}
]},
{"width":298,"height":43,"title":"Trace of mu1","data":{"name":"mu1"},
"resolve":{"axis":{"y":"independent"}},
"encoding":{"x":{"field":"x","type":"quantitative","scale":{"domain":[201,21800],"nice":false,"zero":false},"axis":{"values":[5000,10000,15000,20000],"format":"d","title":"Iterations"}}},
"layer":[
{"transform":[{"filter":"datum.c==1"}],"mark":{"type":"area","color":"#000000","clip":true},"encoding":{"y":{"field":"lo","type":"quantitative","title":null,"scale":{"domain":[-0.9,5.45],"nice":false,"zero":false},"axis":{"values":[0,1,2,3,4,5],"labels":false,"orient":"left"}},"y2":{"field":"hi"}}},
{"transform":[{"filter":"datum.c==2"}],"mark":{"type":"area","color":"#ff0000","clip":true},"encoding":{"y":{"field":"lo","type":"quantitative","title":null,"axis":null},"y2":{"field":"hi"}}},
{"transform":[{"filter":"datum.c==3"}],"mark":{"type":"area","color":"#00cd00","clip":true},"encoding":{"y":{"field":"lo","type":"quantitative","title":null,"axis":null},"y2":{"field":"hi"}}},
{"data":{"name":"smooth"},"transform":[{"filter":"datum.p=='mu1'"}],"mark":{"type":"line","strokeWidth":1,"interpolate":"monotone","clip":true},"encoding":{"y":{"field":"y","type":"quantitative","title":null,"axis":{"values":[0,3],"ticks":false,"tickSize":0,"labelPadding":19,"orient":"left"}},"color":{"field":"c","type":"nominal","scale":{"domain":[1,2,3],"range":["#000000","#ff0000","#00cd00"]},"legend":null}}}
]},
{"width":298,"height":43,"title":"Density of mu1",
"encoding":{"x":{"field":"x","type":"quantitative","scale":{"domain":[-1.53,6.02],"nice":false,"zero":false},"axis":{"values":[-1,0,1,2,3,4,5,6],"labelExpr":"toString(datum.value)","title":"N = 5000\u00a0\u00a0 Bandwidth = 0.1976"}}},
"layer":[
{"data":{"name":"dens"},"transform":[{"filter":"datum.p=='mu1'"}],"mark":{"type":"line","color":"#222222","strokeWidth":1.4,"clip":true},"encoding":{"y":{"field":"y","type":"quantitative","title":null,"scale":{"domain":[-0.031,0.811],"nice":false,"zero":false},"axis":{"values":[0,0.2,0.4,0.6],"format":".1f","labelExpr":"datum.label=='0.0'||datum.label=='0.6'?datum.label:''"}}}},
{"data":{"name":"rug"},"transform":[{"filter":"datum.p=='mu1'"}],"mark":{"type":"rule","color":"#000000","clip":true},"encoding":{"x2":{"field":"x2"},"y":{"datum":0},"strokeWidth":{"field":"kind","type":"nominal","scale":{"domain":["dense","sparse"],"range":[3,1.2]},"legend":null}}}
]},
{"width":298,"height":43,"title":"Trace of pi0","data":{"name":"pi0"},
"encoding":{"x":{"field":"x","type":"quantitative","scale":{"domain":[201,21800],"nice":false,"zero":false},"axis":{"values":[5000,10000,15000,20000],"format":"d","title":"Iterations"}}},
"layer":[
{"transform":[{"filter":"datum.c==1"}],"mark":{"type":"area","color":"#000000","clip":true},"encoding":{"y":{"field":"lo","type":"quantitative","title":null,"scale":{"domain":[0.176,0.824],"nice":false,"zero":false},"axis":{"values":[0.2,0.3,0.4,0.5,0.6,0.7],"format":".1f","labelExpr":"datum.label=='0.2'||datum.label=='0.7'?datum.label:''"}},"y2":{"field":"hi"}}},
{"transform":[{"filter":"datum.c==2"}],"mark":{"type":"area","color":"#ff0000","clip":true},"encoding":{"y":{"field":"lo","type":"quantitative","title":null},"y2":{"field":"hi"}}},
{"transform":[{"filter":"datum.c==3"}],"mark":{"type":"area","color":"#00cd00","clip":true},"encoding":{"y":{"field":"lo","type":"quantitative","title":null},"y2":{"field":"hi"}}},
{"data":{"name":"smooth"},"transform":[{"filter":"datum.p=='pi0'"}],"mark":{"type":"line","strokeWidth":1,"interpolate":"monotone","clip":true},"encoding":{"y":{"field":"y","type":"quantitative","title":null},"color":{"field":"c","type":"nominal","scale":{"domain":[1,2,3],"range":["#000000","#ff0000","#00cd00"]},"legend":null}}}
]},
{"width":298,"height":43,"title":"Density of pi0",
"encoding":{"x":{"field":"x","type":"quantitative","scale":{"domain":[0.077,0.922],"nice":false,"zero":false},"axis":{"values":[0.2,0.4,0.6,0.8],"labelExpr":"toString(datum.value)","title":"N = 5000\u00a0\u00a0 Bandwidth = 0.03164"}}},
"layer":[
{"data":{"name":"dens"},"transform":[{"filter":"datum.p=='pi0'"}],"mark":{"type":"line","color":"#222222","strokeWidth":1.4,"clip":true},"encoding":{"y":{"field":"y","type":"quantitative","title":null,"scale":{"domain":[-0.118,3.068],"nice":false,"zero":false},"axis":{"values":[0,0.5,1,1.5,2,2.5],"format":".1f","labelExpr":"datum.label=='0.0'||datum.label=='2.5'?datum.label:''"}}}},
{"data":{"name":"rug"},"transform":[{"filter":"datum.p=='pi0'"}],"mark":{"type":"rule","color":"#000000","clip":true},"encoding":{"x2":{"field":"x2"},"y":{"datum":0},"strokeWidth":{"field":"kind","type":"nominal","scale":{"domain":["dense","sparse"],"range":[3,1.2]},"legend":null}}}
]},
{"width":298,"height":43,"title":"Trace of sigma","data":{"name":"sigma"},
"resolve":{"axis":{"y":"independent"}},
"encoding":{"x":{"field":"x","type":"quantitative","scale":{"domain":[201,21800],"nice":false,"zero":false},"axis":{"values":[5000,10000,15000,20000],"format":"d","title":"Iterations"}}},
"layer":[
{"transform":[{"filter":"datum.c==1"}],"mark":{"type":"area","color":"#000000","clip":true},"encoding":{"y":{"field":"lo","type":"quantitative","title":null,"scale":{"domain":[0.87,4.81],"nice":false,"zero":false},"axis":{"values":[1,2,3,4],"labels":false,"orient":"left"}},"y2":{"field":"hi"}}},
{"transform":[{"filter":"datum.c==2"}],"mark":{"type":"area","color":"#ff0000","clip":true},"encoding":{"y":{"field":"lo","type":"quantitative","title":null,"axis":null},"y2":{"field":"hi"}}},
{"transform":[{"filter":"datum.c==3"}],"mark":{"type":"area","color":"#00cd00","clip":true},"encoding":{"y":{"field":"lo","type":"quantitative","title":null,"axis":null},"y2":{"field":"hi"}}},
{"data":{"name":"smooth"},"transform":[{"filter":"datum.p=='sigma'"}],"mark":{"type":"line","strokeWidth":1,"interpolate":"monotone","clip":true},"encoding":{"y":{"field":"y","type":"quantitative","title":null,"axis":{"values":[1,3],"ticks":false,"tickSize":0,"labelPadding":19,"orient":"left"}},"color":{"field":"c","type":"nominal","scale":{"domain":[1,2,3],"range":["#000000","#ff0000","#00cd00"]},"legend":null}}}
]},
{"width":298,"height":43,"title":"Density of sigma",
"encoding":{"x":{"field":"x","type":"quantitative","scale":{"domain":[0.615,5.06],"nice":false,"zero":false},"axis":{"values":[1,2,3,4,5],"labelExpr":"toString(datum.value)","title":"N = 5000\u00a0\u00a0 Bandwidth = 0.07884"}}},
"layer":[
{"data":{"name":"dens"},"transform":[{"filter":"datum.p=='sigma'"}],"mark":{"type":"line","color":"#222222","strokeWidth":1.4,"clip":true},"encoding":{"y":{"field":"y","type":"quantitative","title":null,"scale":{"domain":[-0.046,1.206],"nice":false,"zero":false},"axis":{"values":[0,0.2,0.4,0.6,0.8,1],"format":".1f","labelExpr":"datum.label=='0.0'||datum.label=='1.0'?datum.label:''"}}}},
{"data":{"name":"rug"},"transform":[{"filter":"datum.p=='sigma'"}],"mark":{"type":"rule","color":"#000000","clip":true},"encoding":{"x2":{"field":"x2"},"y":{"datum":0},"strokeWidth":{"field":"kind","type":"nominal","scale":{"domain":["dense","sparse"],"range":[3,1.2]},"legend":null}}}
]}
],
"config":{
"font":"Liberation Sans",
"view":{"stroke":"#000000","strokeWidth":1},
"axis":{"domain":false,"grid":false,"tickColor":"#000000","tickSize":8,"tickWidth":1,"labelColor":"#000000","labelFont":"Liberation Sans","labelFontSize":13.2,"titleFont":"Liberation Sans","titleFontSize":13.2,"titleFontWeight":"normal","titleColor":"#000000","labelOverlap":false,"labelFlush":false,"labelBound":false},
"axisX":{"labelPadding":10,"titlePadding":21},
"axisY":{"labelAngle":-90,"labelAlign":"center","labelBaseline":"alphabetic","labelPadding":11},
"title":{"font":"Liberation Sans","fontSize":15.8,"fontWeight":"bold","color":"#000000","baseline":"alphabetic","offset":21,"anchor":"middle"}
}
}
